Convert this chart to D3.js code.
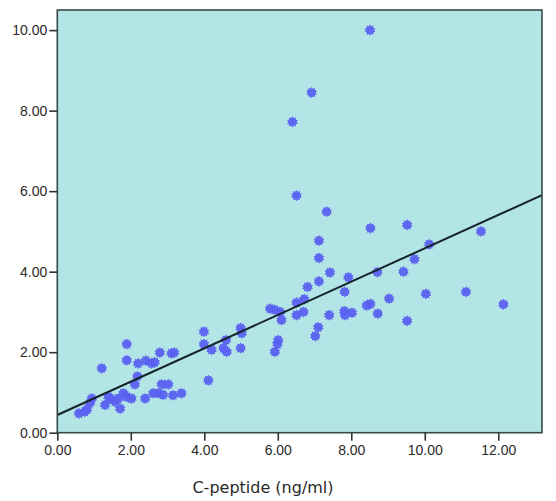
<!DOCTYPE html>
<html>
<head>
  <meta charset="utf-8">
  <script src="https://unpkg.com/d3@7/dist/d3.min.js"></script>
  <style>
    body { margin: 0; background: #ffffff; }
  </style>
</head>
<body>
  <div id="svgcontainer"></div>
  <script>
    var width = 556;
    var height = 501;

    // C-peptide (ng/ml) values
    var cpeptide = [
      0.59, 0.75, 0.81, 0.89, 0.94, 1.21, 1.30, 1.39, 1.45, 1.57,
      1.66, 1.71, 1.80, 1.89, 2.02, 1.89, 1.89, 2.11, 2.18, 2.20,
      2.41, 2.57, 2.65, 2.39, 2.61, 2.75, 2.88, 2.84, 3.02, 2.79,
      3.11, 3.18, 3.15, 3.38,
      3.99, 3.99, 4.11, 4.20, 4.52, 4.61, 4.59, 4.99, 5.02, 4.99,
      5.79, 5.92, 6.06, 6.10, 6.01, 5.99, 5.92, 6.51, 6.72, 6.51,
      6.70, 7.10, 7.02, 7.40, 7.81, 7.83, 8.02, 8.42, 8.52, 8.72,
      9.03, 9.52, 10.03, 11.12, 12.14, 6.81, 7.12, 7.42, 7.92, 7.82,
      8.71, 9.42, 9.72, 10.12, 9.52, 8.52, 11.53, 7.12, 7.12, 6.51,
      7.33, 6.40, 6.92, 8.51
    ];
    // matching y values
    var yValues = [
      0.48, 0.52, 0.58, 0.74, 0.85, 1.60, 0.69, 0.89, 0.85, 0.77,
      0.85, 0.60, 0.98, 0.89, 0.85, 2.20, 1.80, 1.20, 1.40, 1.72,
      1.79, 1.72, 1.75, 0.85, 0.98, 0.98, 0.94, 1.20, 1.20, 1.99,
      1.97, 1.99, 0.93, 0.98,
      2.51, 2.20, 1.30, 2.06, 2.10, 2.01, 2.30, 2.60, 2.47, 2.10,
      3.08, 3.05, 3.00, 2.80, 2.30, 2.20, 2.01, 3.23, 3.32, 2.92,
      3.00, 2.62, 2.40, 2.92, 3.02, 2.92, 2.98, 3.16, 3.20, 2.96,
      3.33, 2.78, 3.45, 3.50, 3.19, 3.62, 3.76, 3.98, 3.86, 3.50,
      3.99, 4.00, 4.31, 4.68, 5.16, 5.08, 5.00, 4.77, 4.34, 5.89,
      5.49, 7.72, 8.45, 10.00
    ];

    var xTicks = [0, 2, 4, 6, 8, 10, 12];
    var yTicks = [0, 2, 4, 6, 8, 10];

    // fit line
    var fitIntercept = 0.44;
    var fitSlope = 0.414;

    var svg = d3.select("#svgcontainer")
      .append("svg")
      .attr("width", width)
      .attr("height", height);

    var x = d3.scaleLinear().domain([0, 13.19]).range([57.3, 542]);
    var y = d3.scaleLinear().domain([0, 10.5]).range([432.7, 10]);

    // plot background
    svg.append("rect")
      .attr("x", x(0)).attr("y", y(10.5))
      .attr("width", x(13.19) - x(0)).attr("height", y(0) - y(10.5))
      .attr("fill", "#b3e5e6");

    // spiky SPSS like marker
    function starPath(r1, r2, n) {
      var pts = [];
      for (var i = 0; i < n * 2; i++) {
        var r = (i % 2 == 0) ? r1 : r2;
        var a = Math.PI * i / n;
        pts.push([r * Math.sin(a), -r * Math.cos(a)]);
      }
      return "M" + pts.join("L") + "Z";
    }
    var marker = starPath(5.6, 4.1, 10);

    svg.append("g")
      .selectAll("path")
      .data(cpeptide)
      .enter()
      .append("path")
      .attr("d", marker)
      .attr("transform", function(d, i) {
        return "translate(" + x(d) + "," + y(yValues[i]) + ")";
      })
      .attr("fill", "#5a60f0")
      .attr("fill-opacity", 0.95);

    // fit line
    svg.append("line")
      .attr("x1", x(0))
      .attr("y1", y(fitIntercept))
      .attr("x2", x(13.19))
      .attr("y2", y(fitIntercept + fitSlope * 13.19))
      .style("stroke", "#14222a")
      .style("stroke-width", 2);

    // frame
    svg.append("rect")
      .attr("x", x(0)).attr("y", y(10.5))
      .attr("width", x(13.19) - x(0)).attr("height", y(0) - y(10.5))
      .attr("fill", "none")
      .style("stroke", "#3a4848")
      .style("stroke-width", 1.6);

    var xAxis = svg.append("g")
      .attr("transform", "translate(0," + y(0) + ")")
      .call(d3.axisBottom(x).tickValues(xTicks).tickSize(8).tickPadding(4)
        .tickFormat(d3.format(".2f")));
    var yAxis = svg.append("g")
      .attr("transform", "translate(" + x(0) + ",0)")
      .call(d3.axisLeft(y).tickValues(yTicks).tickSize(8).tickPadding(2)
        .tickFormat(d3.format(".2f")));

    [xAxis, yAxis].forEach(function(ax) {
      ax.select(".domain").remove();
      ax.selectAll("line").style("stroke", "#2a3434").style("stroke-width", 1.6);
      ax.selectAll("text")
        .attr("font-family", "Liberation Sans, Arial, sans-serif")
        .attr("font-size", 14)
        .attr("fill", "#2a2a2a");
    });

    svg.append("text")
      .attr("x", 263)
      .attr("y", 493)
      .attr("text-anchor", "middle")
      .attr("font-family", "DejaVu Sans, sans-serif")
      .attr("font-size", 16)
      .attr("fill", "#2a2a2a")
      .text("C-peptide (ng/ml)");
  </script>
</body>
</html>
